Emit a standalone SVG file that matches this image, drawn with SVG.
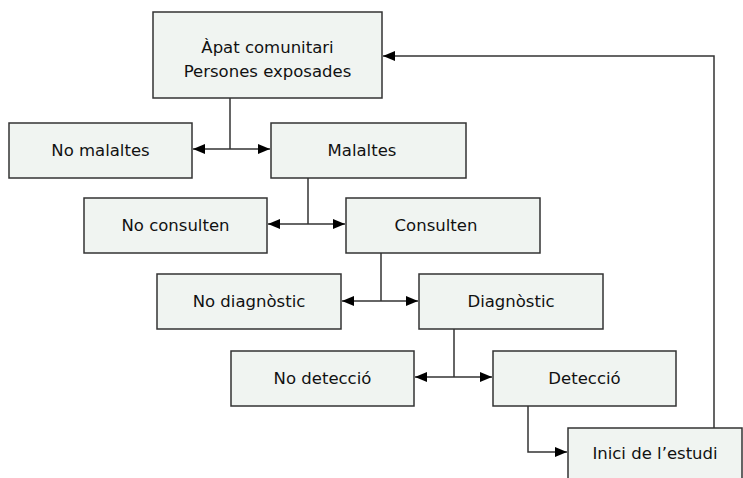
<svg xmlns="http://www.w3.org/2000/svg" width="743" height="478" viewBox="0 0 743 478">
<style>
.box{fill:#f0f4f1;stroke:#333;stroke-width:1.5}
.lbl{font-family:"DejaVu Sans",sans-serif;font-size:16.5px;fill:#111;text-anchor:middle}
.ln{fill:none;stroke:#333;stroke-width:1.5}
</style>
<defs>
<marker id="ah" viewBox="0 0 12 10" refX="12" refY="5" markerWidth="12" markerHeight="10" markerUnits="userSpaceOnUse" orient="auto-start-reverse">
<path d="M0,0 L12,5 L0,10 Z" fill="#000"/>
</marker>
</defs>
<g id="connectors">
<path class="ln" d="M230,98 V149"/>
<path class="ln" d="M193,149 H270" marker-start="url(#ah)" marker-end="url(#ah)"/>
<path class="ln" d="M308,178 V224"/>
<path class="ln" d="M268,224 H345" marker-start="url(#ah)" marker-end="url(#ah)"/>
<path class="ln" d="M381,253 V301"/>
<path class="ln" d="M342,301 H418" marker-start="url(#ah)" marker-end="url(#ah)"/>
<path class="ln" d="M454,329 V377"/>
<path class="ln" d="M415,377 H492" marker-start="url(#ah)" marker-end="url(#ah)"/>
<path class="ln" d="M528,406 V452 H567" marker-end="url(#ah)"/>
<path class="ln" d="M714,428 V56 H383" marker-end="url(#ah)"/>
</g>
<g id="apat">
<rect class="box" x="153" y="12" width="229" height="86"/>
<text class="lbl" x="267.5" y="53">Àpat comunitari</text>
<text class="lbl" x="267.5" y="77">Persones exposades</text>
</g>
<g id="no-malaltes">
<rect class="box" x="9" y="123" width="183" height="55"/>
<text class="lbl" x="100.5" y="156">No malaltes</text>
</g>
<g id="malaltes">
<rect class="box" x="271" y="123" width="195" height="55"/>
<text class="lbl" x="362" y="156">Malaltes</text>
</g>
<g id="no-consulten">
<rect class="box" x="84" y="198" width="183" height="55"/>
<text class="lbl" x="175.5" y="231">No consulten</text>
</g>
<g id="consulten">
<rect class="box" x="346" y="198" width="194" height="55"/>
<text class="lbl" x="436" y="231">Consulten</text>
</g>
<g id="no-diagnostic">
<rect class="box" x="157" y="274" width="184" height="55"/>
<text class="lbl" x="249" y="307">No diagnòstic</text>
</g>
<g id="diagnostic">
<rect class="box" x="419" y="274" width="184" height="55"/>
<text class="lbl" x="511" y="307">Diagnòstic</text>
</g>
<g id="no-deteccio">
<rect class="box" x="231" y="351" width="183" height="55"/>
<text class="lbl" x="322.5" y="384">No detecció</text>
</g>
<g id="deteccio">
<rect class="box" x="493" y="351" width="183" height="55"/>
<text class="lbl" x="584.5" y="384">Detecció</text>
</g>
<g id="inici">
<rect class="box" x="568" y="428" width="174" height="60"/>
<text class="lbl" x="655" y="459">Inici de l’estudi</text>
</g>
</svg>
